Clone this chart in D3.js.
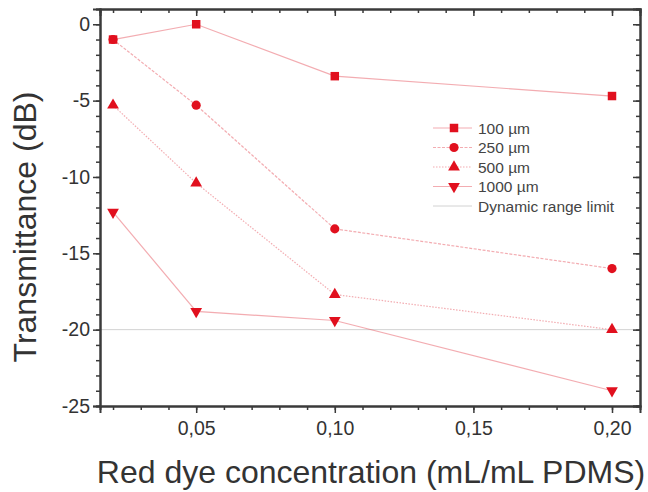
<!DOCTYPE html>
<html>
<head>
<meta charset="utf-8">
<script src="https://cdn.jsdelivr.net/npm/d3@7"></script>
<style>
  html, body { margin: 0; padding: 0; background: #fff; }
  svg { display: block; }
  text { font-family: "Liberation Sans", Arial, sans-serif; }
</style>
</head>
<body>
<svg id="chart" width="648" height="492"></svg>
<script>
// Dye concentration (mL dye per mL PDMS)
const concentrations = [0.02, 0.05, 0.10, 0.20];

// Transmittance (dB) for each channel thickness
const t100 = [-1.0, 0.0, -3.4, -4.7];
const t250 = [-1.0, -5.3, -13.4, -16.0];
const t500 = [-5.3, -10.4, -17.7, -20.0];
const t1000 = [-12.3, -18.8, -19.4, -24.0];

const seriesNames = ["100 µm", "250 µm", "500 µm", "1000 µm"];
const seriesValues = [t100, t250, t500, t1000];
const seriesSymbols = ["square", "circle", "triangle", "triangleDown"];
const seriesDash = [null, "3,1.5", "1.5,1.5", null];

const dynamicRangeLimit = -20;
const limitLabel = "Dynamic range limit";

const xTicks = [0.05, 0.10, 0.15, 0.20];
const xTickLabels = ["0,05", "0,10", "0,15", "0,20"];
const yTicks = [0, -5, -10, -15, -20, -25];
const yTickLabels = ["0", "-5", "-10", "-15", "-20", "-25"];

const xTitle = "Red dye concentration (mL/mL PDMS)";
const yTitle = "Transmittance (dB)";

const margin = { left: 100, right: 8, top: 9, bottom: 86 };
const W = 648, H = 492;
const svg = d3.select("#chart");

const x = d3.scaleLinear().domain([0.0153, 0.2101]).range([margin.left, W - margin.right]);
const y = d3.scaleLinear().domain([-25, 1]).range([H - margin.bottom, margin.top]);

const markerColor = "#e1101e";
const lineColor = "rgba(232, 90, 100, 0.5)";
const axisColor = "#3a3a3a";

// Dynamic range limit
svg.append("line")
  .attr("x1", x.range()[0]).attr("x2", x.range()[1])
  .attr("y1", y(dynamicRangeLimit)).attr("y2", y(dynamicRangeLimit))
  .attr("stroke", "#d2d2d2").attr("stroke-width", 1);

// Series lines
const line = d3.line().x((d, i) => x(concentrations[i])).y(d => y(d));
seriesValues.forEach((vals, k) => {
  svg.append("path")
    .datum(vals)
    .attr("d", line)
    .attr("fill", "none")
    .attr("stroke", lineColor)
    .attr("stroke-width", 1.2)
    .attr("stroke-dasharray", seriesDash[k]);
});

// Marker symbols
function symbolPath(kind) {
  if (kind === "square") return d3.symbol(d3.symbolSquare, 72)();
  if (kind === "circle") return d3.symbol(d3.symbolCircle, 66)();
  return d3.symbol(d3.symbolTriangle, 60)();
}
function drawMarker(g, kind, cx, cy) {
  g.append("path")
    .attr("d", symbolPath(kind))
    .attr("transform", `translate(${cx},${cy})` + (kind === "triangleDown" ? " rotate(180)" : ""))
    .attr("fill", markerColor);
}
seriesValues.forEach((vals, k) => {
  const g = svg.append("g");
  vals.forEach((v, i) => drawMarker(g, seriesSymbols[k], x(concentrations[i]), y(v)));
});

// Axes: bottom/left ticks outward, top/right ticks inward
const xMinor = d3.range(0.02, 0.2001, 0.01).map(v => +v.toFixed(2));
const yMinor = d3.range(-25, 1.001, 1);

const axBottom = svg.append("g").attr("transform", `translate(0,${y.range()[0]})`);
axBottom.call(d3.axisBottom(x).tickValues(xMinor).tickSize(4).tickFormat(""));
axBottom.call(g => g.append("g").call(
  d3.axisBottom(x).tickValues(xTicks).tickSize(7).tickPadding(8)
    .tickFormat((d, i) => xTickLabels[i])));

const axTop = svg.append("g").attr("transform", `translate(0,${y.range()[1]})`);
axTop.call(d3.axisBottom(x).tickValues(xMinor).tickSize(4).tickFormat(""));
axTop.call(g => g.append("g").call(d3.axisBottom(x).tickValues(xTicks).tickSize(7).tickFormat("")));

const axLeft = svg.append("g").attr("transform", `translate(${x.range()[0]},0)`);
axLeft.call(d3.axisLeft(y).tickValues(yMinor).tickSize(4).tickFormat(""));
axLeft.call(g => g.append("g").call(
  d3.axisLeft(y).tickValues(yTicks).tickSize(7).tickPadding(3)
    .tickFormat((d, i) => yTickLabels[i])));

const axRight = svg.append("g").attr("transform", `translate(${x.range()[1]},0)`);
axRight.call(d3.axisLeft(y).tickValues(yMinor).tickSize(4).tickFormat(""));
axRight.call(g => g.append("g").call(d3.axisLeft(y).tickValues(yTicks).tickSize(7).tickFormat("")));

svg.selectAll(".domain").attr("stroke", axisColor).attr("stroke-width", 2);
svg.selectAll(".tick line").attr("stroke", axisColor).attr("stroke-width", 1.5);
svg.selectAll(".tick text").attr("fill", "#333").style("font-size", "19.5px")
  .style("font-family", '"Liberation Sans", Arial, sans-serif');

// Axis titles
svg.append("text")
  .attr("x", 371).attr("y", 483)
  .attr("text-anchor", "middle").attr("fill", "#333")
  .style("font-size", "32px").text(xTitle);
svg.append("text")
  .attr("transform", `translate(36,227) rotate(-90)`)
  .attr("text-anchor", "middle").attr("fill", "#333")
  .style("font-size", "32px").text(yTitle);

// Legend
const legend = svg.append("g").attr("transform", "translate(433,128)");
const rowH = 19.5;
seriesNames.forEach((name, k) => {
  const row = legend.append("g").attr("transform", `translate(0,${k * rowH})`);
  row.append("line").attr("x1", 0).attr("x2", 39).attr("y1", 0).attr("y2", 0)
    .attr("stroke", lineColor).attr("stroke-width", 1.2).attr("stroke-dasharray", seriesDash[k]);
  drawMarker(row, seriesSymbols[k], 21, 0);
  row.append("text").attr("x", 45).attr("y", 5.5).attr("fill", "#444")
    .style("font-size", "15.5px").text(name);
});
const limitRow = legend.append("g").attr("transform", `translate(0,${4 * rowH})`);
limitRow.append("line").attr("x1", 0).attr("x2", 39).attr("y1", 0).attr("y2", 0)
  .attr("stroke", "#d2d2d2").attr("stroke-width", 1);
limitRow.append("text").attr("x", 45).attr("y", 5.5).attr("fill", "#444")
  .style("font-size", "15.5px").text(limitLabel);
</script>
</body>
</html>
